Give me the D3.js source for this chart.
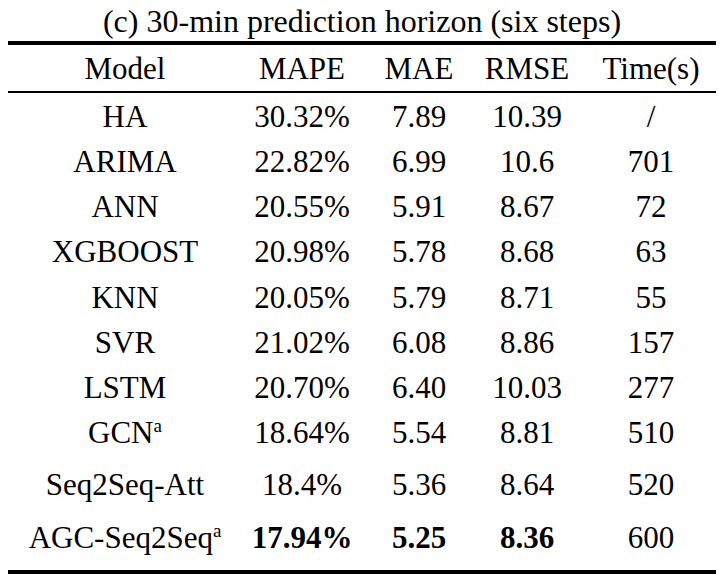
<!DOCTYPE html>
<meta charset="utf-8">
<style>
body { margin: 0; background: #fff; }
svg { display: block; }
text { font-family: 'Liberation Serif', 'Times New Roman', serif; fill: #000; }
</style>
<body>
<div id="table"></div>
<script src="https://d3js.org/d3.v7.min.js"></script>
<script>
// table contents, as printed
var title = "(c) 30-min prediction horizon (six steps)";
var headers = ["Model", "MAPE", "MAE", "RMSE", "Time(s)"];
var models = ["HA", "ARIMA", "ANN", "XGBOOST", "KNN", "SVR", "LSTM", "GCN", "Seq2Seq-Att", "AGC-Seq2Seq"];
var notes  = ["", "", "", "", "", "", "", "a", "", "a"];
var mape = ["30.32%", "22.82%", "20.55%", "20.98%", "20.05%", "21.02%", "20.70%", "18.64%", "18.4%", "17.94%"];
var mae  = ["7.89", "6.99", "5.91", "5.78", "5.79", "6.08", "6.40", "5.54", "5.36", "5.25"];
var rmse = ["10.39", "10.6", "8.67", "8.68", "8.71", "8.86", "10.03", "8.81", "8.64", "8.36"];
var time = ["/", "701", "72", "63", "55", "157", "277", "510", "520", "600"];

var width = 723,
    height = 582,
    fontSize = 31;

var svg = d3.select("#table").append("svg")
    .attr("width", width)
    .attr("height", height);

// column centres
var x = d3.scaleOrdinal()
    .domain(headers)
    .range([125, 302, 419, 527, 651]);

// row baselines: regular rows, last two a bit taller
var rowStep = [45, 45, 45, 45, 46, 45, 45, 45, 52, 53];
var rowY = [];
var y0 = 82;
rowStep.forEach(function(s, i) { y0 += s; rowY.push(Math.round(y0)); });

// which cells are the best (smallest) in each error column
function best(col) {
  var v = col.map(function(d) { return parseFloat(d); });
  var m = d3.min(v);
  return v.map(function(d) { return d === m; });
}

var rows = models.map(function(m, i) {
  return { model: m, note: notes[i], cells: [mape[i], mae[i], rmse[i], time[i]] };
});
var bold = [best(mape), best(mae), best(rmse), time.map(function() { return false; })];

// title
svg.append("text")
    .attr("x", 362)
    .attr("y", 32)
    .attr("text-anchor", "middle")
    .style("font-size", "32px")
    .text(title);

// rules
var rules = [{ y: 43, w: 4 }, { y: 92, w: 2 }, { y: 572, w: 4 }];
svg.selectAll("line.rule")
    .data(rules)
  .enter().append("line")
    .attr("class", "rule")
    .attr("x1", 8)
    .attr("x2", 716)
    .attr("y1", function(d) { return d.y; })
    .attr("y2", function(d) { return d.y; })
    .attr("stroke", "#000")
    .attr("stroke-width", function(d) { return d.w; });

// header
svg.selectAll("text.head")
    .data(headers)
  .enter().append("text")
    .attr("class", "head")
    .attr("x", function(d) { return x(d); })
    .attr("y", 79)
    .attr("text-anchor", "middle")
    .style("font-size", fontSize + "px")
    .text(function(d) { return d; });

// body rows
var row = svg.selectAll("g.row")
    .data(rows)
  .enter().append("g")
    .attr("class", "row")
    .attr("transform", function(d, i) { return "translate(0," + rowY[i] + ")"; });

var label = row.append("text")
    .attr("class", "model")
    .attr("x", x("Model"))
    .attr("text-anchor", "middle")
    .style("font-size", fontSize + "px");
label.append("tspan").text(function(d) { return d.model; });
label.filter(function(d) { return d.note; })
  .append("tspan")
    .attr("dy", -11)
    .style("font-size", "19px")
    .text(function(d) { return d.note; });

row.each(function(d, i) {
  d3.select(this).selectAll("text.val")
      .data(d.cells)
    .enter().append("text")
      .attr("class", "val")
      .attr("x", function(v, j) { return x(headers[j + 1]); })
      .attr("text-anchor", "middle")
      .style("font-size", fontSize + "px")
      .style("font-weight", function(v, j) { return bold[j][i] ? "bold" : "normal"; })
      .text(function(v) { return v; });
});
</script>
</body>
